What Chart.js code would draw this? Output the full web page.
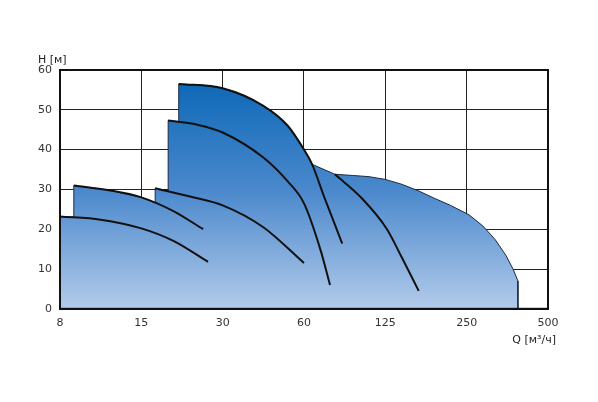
<!DOCTYPE html>
<html>
<head>
<meta charset="utf-8">
<script src="https://cdn.jsdelivr.net/npm/chart.js@4"></script>
<style>
  html, body { margin: 0; padding: 0; background: #fff; }
  #wrap { width: 598px; height: 402px; }
</style>
</head>
<body>
<div id="wrap"><canvas id="c" width="598" height="402"></canvas></div>
<script>
// x values are positions along the evenly spaced Q ticks
const xTickLabels = ['8', '15', '30', '60', '125', '250', '500'];
const yTicks = [0, 10, 20, 30, 40, 50, 60];

const curveA = [[0, 23.2], [0.5, 22.4], [1, 20.2], [1.4, 17], [1.82, 11.8]];
const curveB = [[0.17, 31], [0.6, 29.8], [1, 28], [1.4, 24.5], [1.76, 20]];
const curveC = [[1.17, 30.3], [1.6, 28.2], [2, 26], [2.5, 20.5], [3, 11.5]];
const curveD = [[1.33, 47.3], [1.7, 46.2], [2, 44.3], [2.5, 38], [2.8, 32], [3, 26.5], [3.2, 15], [3.32, 6]];
const curveE = [[1.46, 56.5], [2, 55.4], [2.5, 51], [2.8, 46], [3, 40], [3.1, 36.3], [3.25, 28], [3.47, 16.4]];
const curveF = [[3.38, 33.8], [3.7, 28], [4.02, 20], [4.2, 13], [4.41, 4.5]];
const envelope = [
  [0, 23.2], [0.17, 23], [0.17, 31], [0.6, 29.8], [1, 28], [1.17, 26.6], [1.17, 30.3],
  [1.33, 29.6], [1.33, 47.3], [1.46, 47], [1.46, 56.5], [1.75, 56.2], [2, 55.4], [2.25, 53.6],
  [2.5, 51], [2.65, 48.8], [2.8, 46], [2.9, 43.3], [3, 40], [3.1, 36.3], [3.38, 33.8],
  [3.6, 33.5], [3.8, 33.2], [4, 32.5], [4.2, 31.3], [4.4, 29.7], [4.6, 27.8], [4.8, 26],
  [5.03, 23.6], [5.2, 20.8], [5.35, 17.4], [5.48, 13.5], [5.57, 10], [5.63, 7], [5.63, 0]
];

function pts(arr) { return arr.map(p => ({ x: p[0], y: p[1] })); }

function curve(arr) {
  return {
    data: pts(arr), borderColor: '#111', borderWidth: 2, pointRadius: 0, order: 0,
    fill: false, tension: 0.35, cubicInterpolationMode: 'monotone'
  };
}

const frameAndTitles = {
  id: 'frameAndTitles',
  afterDraw(chart) {
    const ctx = chart.ctx;
    const a = chart.chartArea;
    ctx.save();
    ctx.strokeStyle = '#111';
    ctx.lineWidth = 2;
    ctx.strokeRect(a.left, a.top, a.right - a.left, a.bottom - a.top);
    ctx.fillStyle = '#222';
    ctx.font = '11px "DejaVu Sans"';
    ctx.textAlign = 'left';
    ctx.fillText('H [м]', a.left - 22, a.top - 7);
    ctx.textAlign = 'right';
    ctx.fillText('Q [м³/ч]', a.right + 8, a.bottom + 34);
    ctx.restore();
  }
};

new Chart(document.getElementById('c'), {
  type: 'line',
  data: {
    datasets: [
      {
        data: pts(envelope), borderColor: '#1a2a44', borderWidth: 1, pointRadius: 0, tension: 0,
        order: 1, fill: 'origin',
        backgroundColor: (ctx) => {
          const a = ctx.chart.chartArea;
          if (!a) return '#3a7cc4';
          const g = ctx.chart.ctx.createLinearGradient(0, a.top, 0, a.bottom);
          g.addColorStop(0, '#0765b5');
          g.addColorStop(0.5, '#4a88cc');
          g.addColorStop(1, '#b3cbea');
          return g;
        }
      },
      curve(curveA), curve(curveB), curve(curveC), curve(curveD), curve(curveE), curve(curveF)
    ]
  },
  options: {
    responsive: false,
    animation: false,
    layout: { padding: { left: 30, right: 50, top: 70, bottom: 64 } },
    plugins: { legend: { display: false }, tooltip: { enabled: false } },
    scales: {
      x: {
        type: 'linear', min: 0, max: 6,
        grid: { color: '#222', lineWidth: 1, drawTicks: false },
        border: { color: '#111', width: 2 },
        afterBuildTicks: (s) => { s.ticks = xTickLabels.map((_, i) => ({ value: i })); },
        ticks: { color: '#333', font: { size: 11, family: 'DejaVu Sans' }, padding: 8,
          callback: (v) => xTickLabels[v] }
      },
      y: {
        min: 0, max: 60,
        grid: { color: '#222', lineWidth: 1, drawTicks: false },
        border: { color: '#111', width: 2 },
        afterBuildTicks: (s) => { s.ticks = yTicks.map(v => ({ value: v })); },
        ticks: { color: '#333', font: { size: 11, family: 'DejaVu Sans' }, padding: 8 }
      }
    }
  },
  plugins: [frameAndTitles]
});
</script>
</body>
</html>
